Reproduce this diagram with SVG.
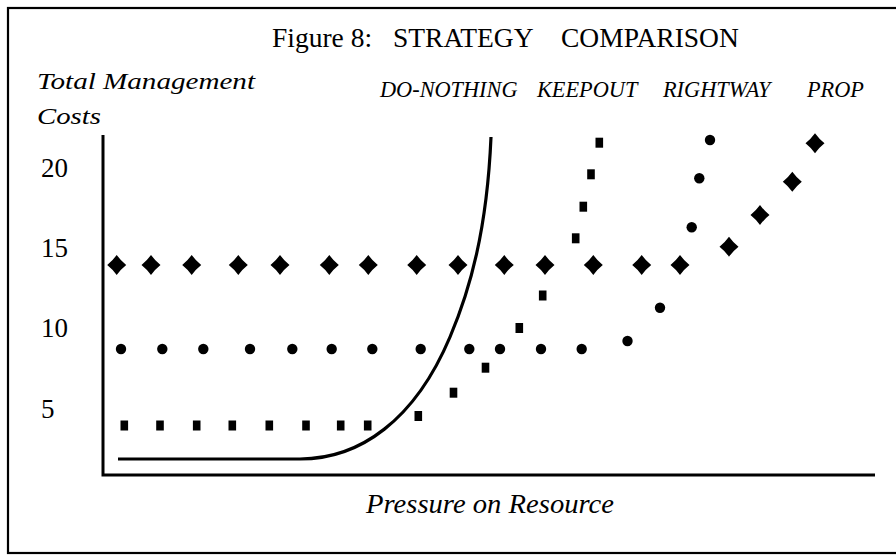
<svg xmlns="http://www.w3.org/2000/svg" xmlns:xlink="http://www.w3.org/1999/xlink" width="896" height="555" viewBox="0 0 896 555">
<style>
  .t { font-family: "Liberation Serif", "Times New Roman", serif; fill: #000; }
  .it { font-family: "Liberation Serif", "Times New Roman", serif; font-style: italic; fill: #000; }
  .ln { fill: none; stroke: #000; }
</style>
<defs>
  <path id="dia" d="M0,-10 Q4.2,-4.2 9.5,0 Q4.2,4.2 0,10 Q-4.2,4.2 -9.5,0 Q-4.2,-4.2 0,-10 Z" fill="#000"/>
  <circle id="dot" r="5.2" fill="#000"/>
  <rect id="sq" x="-3.8" y="-5" width="7.6" height="10" fill="#000"/>
</defs>
<rect width="896" height="555" fill="#fff"/>
<g id="frame">
  <rect class="ln" x="8" y="8" width="900" height="545" stroke-width="2.2"/>
</g>
<g id="title">
  <text class="t" x="272" y="47" font-size="27.5">Figure 8:</text>
  <text class="t" x="393" y="47" font-size="27.5">STRATEGY</text>
  <text class="t" x="561" y="47" font-size="27.5">COMPARISON</text>
</g>
<g id="y-axis-label">
  <text class="it" x="37" y="89" font-size="23" textLength="218" lengthAdjust="spacingAndGlyphs">Total Management</text>
  <text class="it" x="37" y="124" font-size="23" textLength="64" lengthAdjust="spacingAndGlyphs">Costs</text>
</g>
<g id="legend">
  <text class="it" x="380" y="97" font-size="22.3">DO-NOTHING</text>
  <text class="it" x="537" y="97" font-size="22.3">KEEPOUT</text>
  <text class="it" x="663" y="97" font-size="22.3">RIGHTWAY</text>
  <text class="it" x="807" y="97" font-size="22.3">PROP</text>
</g>
<g id="ticks">
  <text class="t" x="41" y="177" font-size="27">20</text>
  <text class="t" x="41" y="257" font-size="27">15</text>
  <text class="t" x="41" y="337" font-size="27">10</text>
  <text class="t" x="41" y="418" font-size="27">5</text>
</g>
<g id="axes">
  <path class="ln" d="M103,135 L103,475 L875,475" stroke-width="3"/>
</g>
<text class="it" x="366" y="513" font-size="27" textLength="248" lengthAdjust="spacingAndGlyphs">Pressure on Resource</text>
<g id="do-nothing">
  <path class="ln" d="M118,459 L300,459 C360,459 415,420 450,337 C470,290 487,230 491,137" stroke-width="3.2"/>
</g>
<g id="keepout">
  <use href="#sq" x="124.3" y="425.5"/>
  <use href="#sq" x="160" y="425.5"/>
  <use href="#sq" x="196.7" y="425.5"/>
  <use href="#sq" x="232.3" y="425.5"/>
  <use href="#sq" x="269.3" y="425.5"/>
  <use href="#sq" x="306" y="425.5"/>
  <use href="#sq" x="340.7" y="425.5"/>
  <use href="#sq" x="367.7" y="425.5"/>
  <use href="#sq" x="418.3" y="416"/>
  <use href="#sq" x="453.5" y="392.7"/>
  <use href="#sq" x="485.5" y="367.7"/>
  <use href="#sq" x="519.3" y="328"/>
  <use href="#sq" x="542.7" y="295.5"/>
  <use href="#sq" x="575.7" y="238.3"/>
  <use href="#sq" x="583.3" y="206.7"/>
  <use href="#sq" x="591" y="174.3"/>
  <use href="#sq" x="599.3" y="142.7"/>
</g>
<g id="rightway">
  <use href="#dot" x="121" y="349"/>
  <use href="#dot" x="162.3" y="349"/>
  <use href="#dot" x="203.3" y="349"/>
  <use href="#dot" x="250" y="349"/>
  <use href="#dot" x="292.3" y="349"/>
  <use href="#dot" x="331.7" y="349"/>
  <use href="#dot" x="372.3" y="349"/>
  <use href="#dot" x="420.7" y="349"/>
  <use href="#dot" x="469.3" y="349"/>
  <use href="#dot" x="500" y="349"/>
  <use href="#dot" x="541" y="349"/>
  <use href="#dot" x="581.7" y="349"/>
  <use href="#dot" x="627.5" y="341"/>
  <use href="#dot" x="660" y="307.7"/>
  <use href="#dot" x="691.7" y="227.3"/>
  <use href="#dot" x="699.3" y="178.3"/>
  <use href="#dot" x="710" y="140"/>
</g>
<g id="prop">
  <use href="#dia" x="116.7" y="265"/>
  <use href="#dia" x="151" y="265"/>
  <use href="#dia" x="191.7" y="265"/>
  <use href="#dia" x="238.3" y="265"/>
  <use href="#dia" x="280" y="265"/>
  <use href="#dia" x="329.3" y="265"/>
  <use href="#dia" x="368.3" y="265"/>
  <use href="#dia" x="416.7" y="265"/>
  <use href="#dia" x="458" y="265"/>
  <use href="#dia" x="504.3" y="265"/>
  <use href="#dia" x="545" y="265"/>
  <use href="#dia" x="593.3" y="265"/>
  <use href="#dia" x="641.7" y="265"/>
  <use href="#dia" x="680" y="265"/>
  <use href="#dia" x="729" y="246.7"/>
  <use href="#dia" x="760" y="215"/>
  <use href="#dia" x="792.3" y="181.7"/>
  <use href="#dia" x="815" y="143.3"/>
</g>
</svg>
